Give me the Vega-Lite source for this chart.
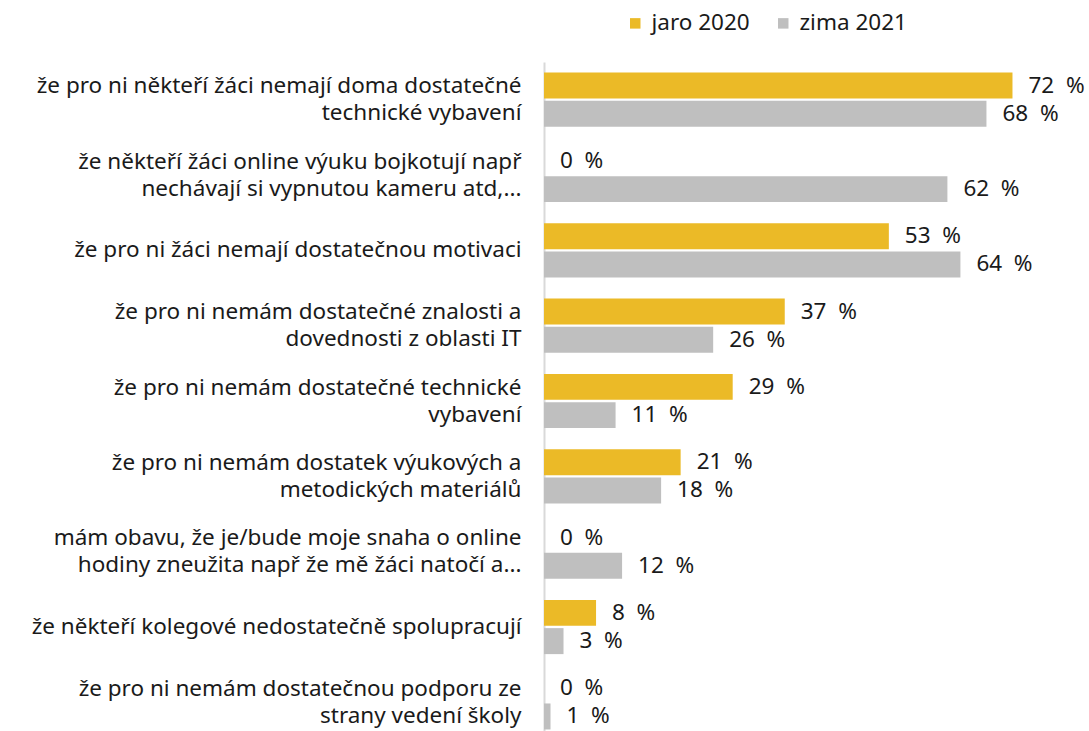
{
  "$schema": "https://vega.github.io/schema/vega-lite/v6.json",
  "width": 488,
  "height": 678,
  "autosize": {"type": "none"},
  "padding": {"left": 544, "top": 62, "right": 57, "bottom": 0},
  "background": "white",
  "config": {
    "font": "Noto Sans",
    "view": {"stroke": null}
  },
  "data": {
    "values": [
      {"kategorie": "že pro ni někteří žáci nemají doma dostatečné\ntechnické vybavení", "obdobi": "jaro 2020", "hodnota": 72},
      {"kategorie": "že pro ni někteří žáci nemají doma dostatečné\ntechnické vybavení", "obdobi": "zima 2021", "hodnota": 68},
      {"kategorie": "že někteří žáci online výuku bojkotují např\nnechávají si vypnutou kameru atd,...", "obdobi": "jaro 2020", "hodnota": 0},
      {"kategorie": "že někteří žáci online výuku bojkotují např\nnechávají si vypnutou kameru atd,...", "obdobi": "zima 2021", "hodnota": 62},
      {"kategorie": "že pro ni žáci nemají dostatečnou motivaci", "obdobi": "jaro 2020", "hodnota": 53},
      {"kategorie": "že pro ni žáci nemají dostatečnou motivaci", "obdobi": "zima 2021", "hodnota": 64},
      {"kategorie": "že pro ni nemám dostatečné znalosti a\ndovednosti z oblasti IT", "obdobi": "jaro 2020", "hodnota": 37},
      {"kategorie": "že pro ni nemám dostatečné znalosti a\ndovednosti z oblasti IT", "obdobi": "zima 2021", "hodnota": 26},
      {"kategorie": "že pro ni nemám dostatečné technické\nvybavení", "obdobi": "jaro 2020", "hodnota": 29},
      {"kategorie": "že pro ni nemám dostatečné technické\nvybavení", "obdobi": "zima 2021", "hodnota": 11},
      {"kategorie": "že pro ni nemám dostatek výukových a\nmetodických materiálů", "obdobi": "jaro 2020", "hodnota": 21},
      {"kategorie": "že pro ni nemám dostatek výukových a\nmetodických materiálů", "obdobi": "zima 2021", "hodnota": 18},
      {"kategorie": "mám obavu, že je/bude moje snaha o online\nhodiny zneužita např že mě žáci natočí a...", "obdobi": "jaro 2020", "hodnota": 0},
      {"kategorie": "mám obavu, že je/bude moje snaha o online\nhodiny zneužita např že mě žáci natočí a...", "obdobi": "zima 2021", "hodnota": 12},
      {"kategorie": "že někteří kolegové nedostatečně spolupracují", "obdobi": "jaro 2020", "hodnota": 8},
      {"kategorie": "že někteří kolegové nedostatečně spolupracují", "obdobi": "zima 2021", "hodnota": 3},
      {"kategorie": "že pro ni nemám dostatečnou podporu ze\nstrany vedení školy", "obdobi": "jaro 2020", "hodnota": 0},
      {"kategorie": "že pro ni nemám dostatečnou podporu ze\nstrany vedení školy", "obdobi": "zima 2021", "hodnota": 1}
    ]
  },
  "transform": [
    {"calculate": "format(datum.hodnota, 'd') + '\u00a0 %'", "as": "popisek"}
  ],
  "encoding": {
    "y": {
      "field": "kategorie",
      "type": "nominal",
      "sort": null,
      "scale": {"paddingInner": 0.28, "paddingOuter": 0.14},
      "axis": {
        "title": null,
        "ticks": false,
        "domain": true,
        "domainColor": "#D9D9D9",
        "domainWidth": 2,
        "labelFont": "Noto Sans",
        "labelFontSize": 22.5,
        "labelColor": "#1a1a1a",
        "labelPadding": 23,
        "labelLineHeight": 27,
        "labelLimit": 600,
        "labelOffset": {"condition": {"test": "indexof(datum.value, '\\n') >= 0", "value": -13.5}, "value": 0},
        "labelExpr": "split(datum.label, '\\n')"
      }
    },
    "yOffset": {
      "field": "obdobi",
      "type": "nominal",
      "sort": ["jaro 2020", "zima 2021"],
      "scale": {"paddingInner": 0.08}
    },
    "x": {
      "field": "hodnota",
      "type": "quantitative",
      "scale": {"domain": [0, 75], "nice": false},
      "axis": null
    }
  },
  "layer": [
    {
      "mark": {"type": "bar"},
      "encoding": {
        "color": {
          "field": "obdobi",
          "type": "nominal",
          "sort": ["jaro 2020", "zima 2021"],
          "scale": {"domain": ["jaro 2020", "zima 2021"], "range": ["#EBBA27", "#BFBFBF"]},
          "legend": {
            "title": null,
            "orient": "none",
            "direction": "horizontal",
            "legendX": 80,
            "legendY": -50,
            "symbolType": "square",
            "symbolSize": 110,
            "labelFont": "Noto Sans",
            "labelFontSize": 22.5,
            "labelColor": "#1a1a1a",
            "columnPadding": 22,
            "labelOffset": 5
          }
        }
      }
    },
    {
      "mark": {"type": "text", "align": "left", "baseline": "middle", "dx": 16, "font": "Noto Sans", "fontSize": 22.5, "color": "#1a1a1a"},
      "encoding": {
        "text": {"field": "popisek", "type": "nominal"}
      }
    }
  ]
}
